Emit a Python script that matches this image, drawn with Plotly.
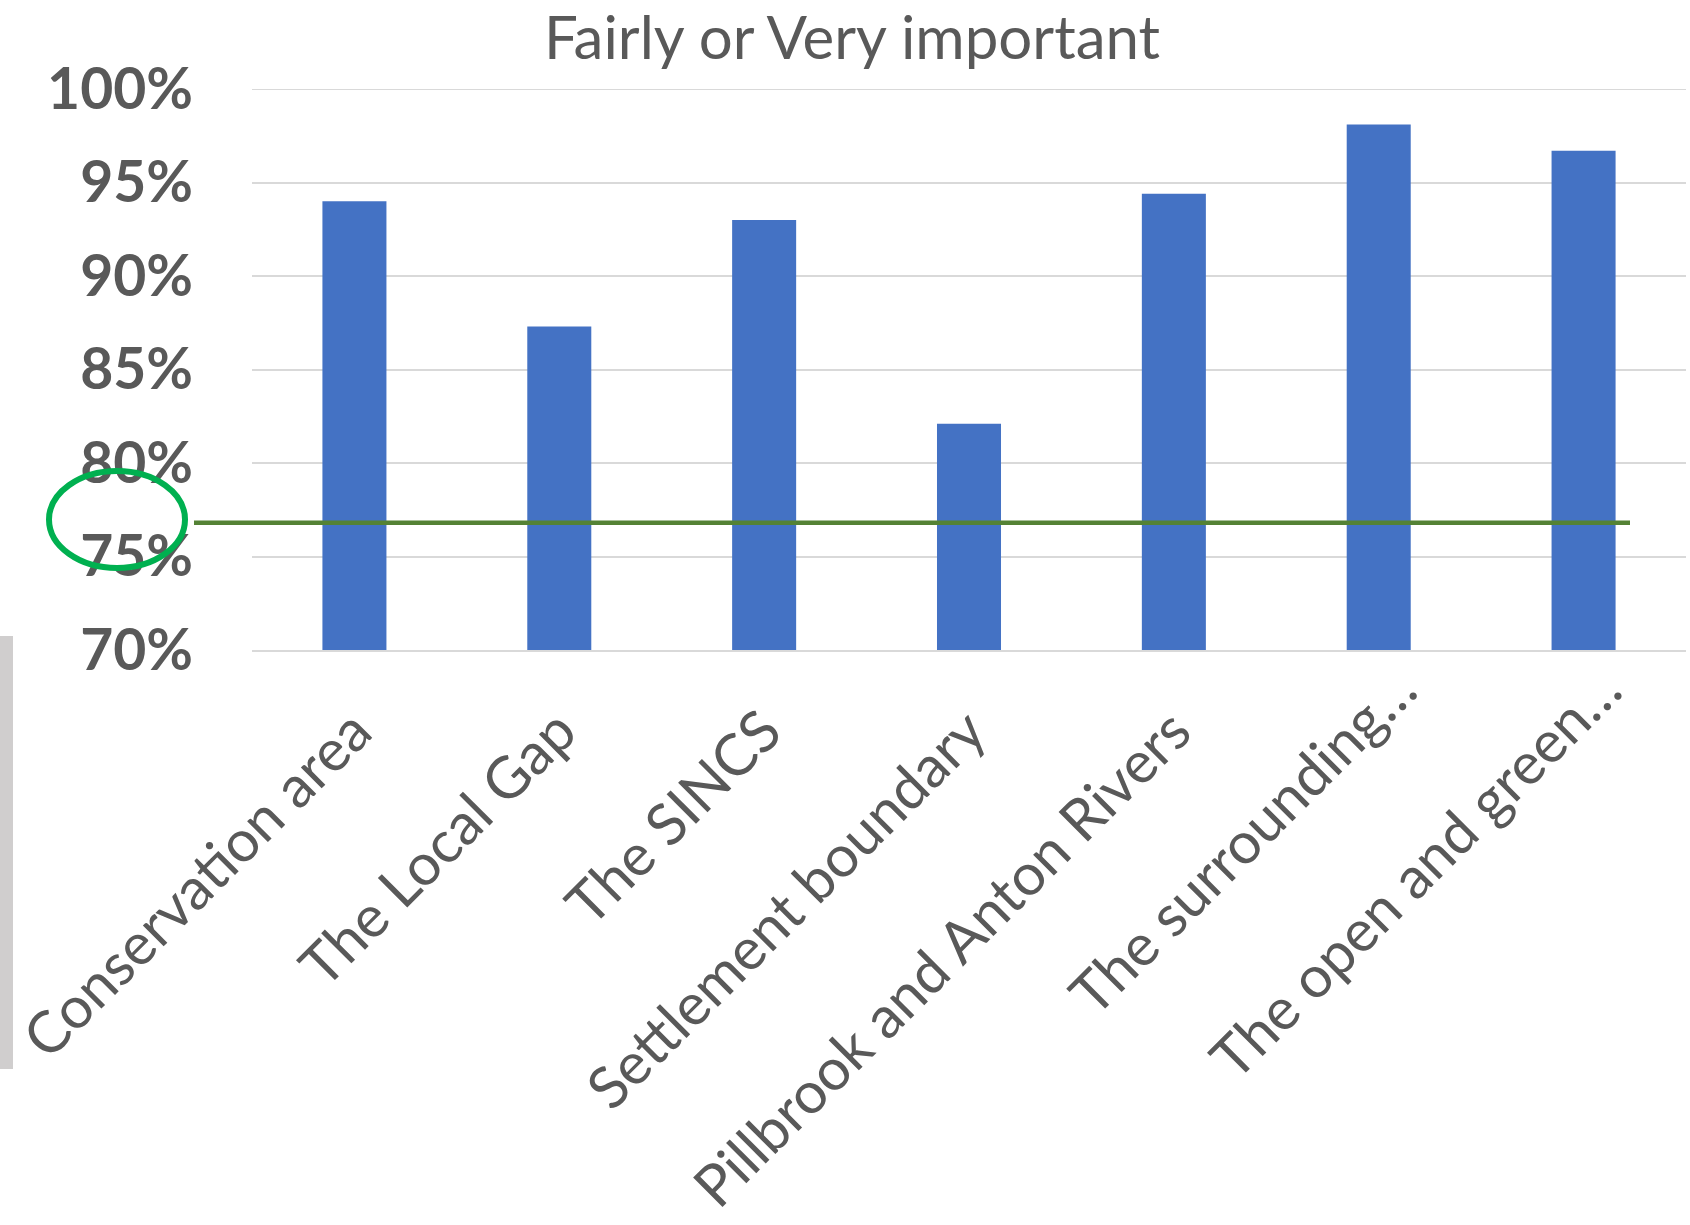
import plotly.graph_objects as go

categories = ["Conservation area", "The Local Gap", "The SINCS", "Settlement boundary",
              "Pillbrook and Anton Rivers", "The surrounding…", "The open and green…"]
values = [0.940, 0.873, 0.930, 0.821, 0.944, 0.981, 0.967]
threshold = 0.768
title_text = "Fairly or Very important"
y_ticks = [0.70, 0.75, 0.80, 0.85, 0.90, 0.95, 1.00]
y_ticktext = ["70%", "75%", "80%", "85%", "90%", "95%", "100%"]

W, H = 1690, 1225
L, R, T, B = 252, 4, 89, 575
pw, ph = W - L - R, H - T - B
n = len(categories)
cat_px = pw / n

def px_x(x):
    return (x - L) / pw

def px_y(y):
    return (H - B - y) / ph

# truncated labels (ending with an ellipsis) sit a little further out in the original
full_idx = [i for i, c in enumerate(categories) if not c.endswith("…")]
trunc_idx = [i for i, c in enumerate(categories) if c.endswith("…")]
trunc_dx = 21  # px nudge to the right for the truncated labels

fig = go.Figure()
fig.add_trace(go.Bar(x=categories, y=values, marker_color="#4472C4", marker_line_width=0,
                     hoverinfo="skip"))
# invisible helper trace so the secondary label axis is drawn
fig.add_trace(go.Scatter(x=trunc_idx, y=[values[i] for i in trunc_idx], xaxis="x2", yaxis="y",
                         mode="markers", marker=dict(opacity=0), hoverinfo="skip",
                         showlegend=False))

# top gridline (100%)
fig.add_shape(type="line", xref="paper", yref="y", x0=0, x1=1, y0=y_ticks[-1], y1=y_ticks[-1],
              line=dict(color="#D9D9D9", width=2), layer="below")
# threshold line
fig.add_shape(type="line", xref="paper", yref="y", x0=px_x(194), x1=px_x(1630),
              y0=threshold, y1=threshold, line=dict(color="#548235", width=4.5), layer="above")
# green ellipse annotation
fig.add_shape(type="circle", xref="paper", yref="paper", x0=px_x(49), x1=px_x(185),
              y0=px_y(568), y1=px_y(471), line=dict(color="#00B050", width=6), layer="above")
# gray bar at left edge
fig.add_shape(type="rect", xref="paper", yref="paper", x0=px_x(0), x1=px_x(13),
              y0=px_y(1069), y1=px_y(636), line_width=0, fillcolor="#D0CECE", layer="above")

label_font = dict(family="Lato", size=58, color="#595959")
shift = trunc_dx / cat_px

fig.update_layout(
    width=W, height=H, margin=dict(l=L, r=R, t=T, b=B, autoexpand=False),
    paper_bgcolor="white", plot_bgcolor="white",
    bargap=0.6875, showlegend=False,
    title=dict(text=title_text, x=852 / W, xanchor="center", y=1 - 59 / H, yanchor="bottom",
               yref="container", font=dict(family="Lato", size=60, color="#595959")),
    font=dict(family="Lato", color="#595959"),
    xaxis=dict(tickangle=-45, showline=True, linecolor="#D9D9D9", linewidth=2,
               automargin=False, tickmode="array",
               tickvals=[categories[i] for i in full_idx],
               ticktext=[categories[i] for i in full_idx],
               tickfont=label_font, ticklabelstandoff=22, fixedrange=True),
    xaxis2=dict(overlaying="x", anchor="y", side="bottom",
                range=[-0.5 - shift, n - 0.5 - shift],
                tickmode="array", tickvals=trunc_idx, ticktext=[categories[i] for i in trunc_idx],
                tickangle=-45, tickfont=label_font, showgrid=False, showline=False,
                zeroline=False, automargin=False, ticklabelstandoff=-7, fixedrange=True),
)
fig.update_yaxes(range=[0.70, 1.00], tickvals=y_ticks, ticktext=y_ticktext, automargin=False,
                 showgrid=True, gridcolor="#D9D9D9", gridwidth=2,
                 zeroline=False, showline=False, fixedrange=True,
                 tickfont=dict(family="Lato", size=57, color="#595959", weight="bold"),
                 ticklabelstandoff=58)

fig.write_html("out.html", config={"displayModeBar": False},
               post_script="document.body.style.margin='0';")
